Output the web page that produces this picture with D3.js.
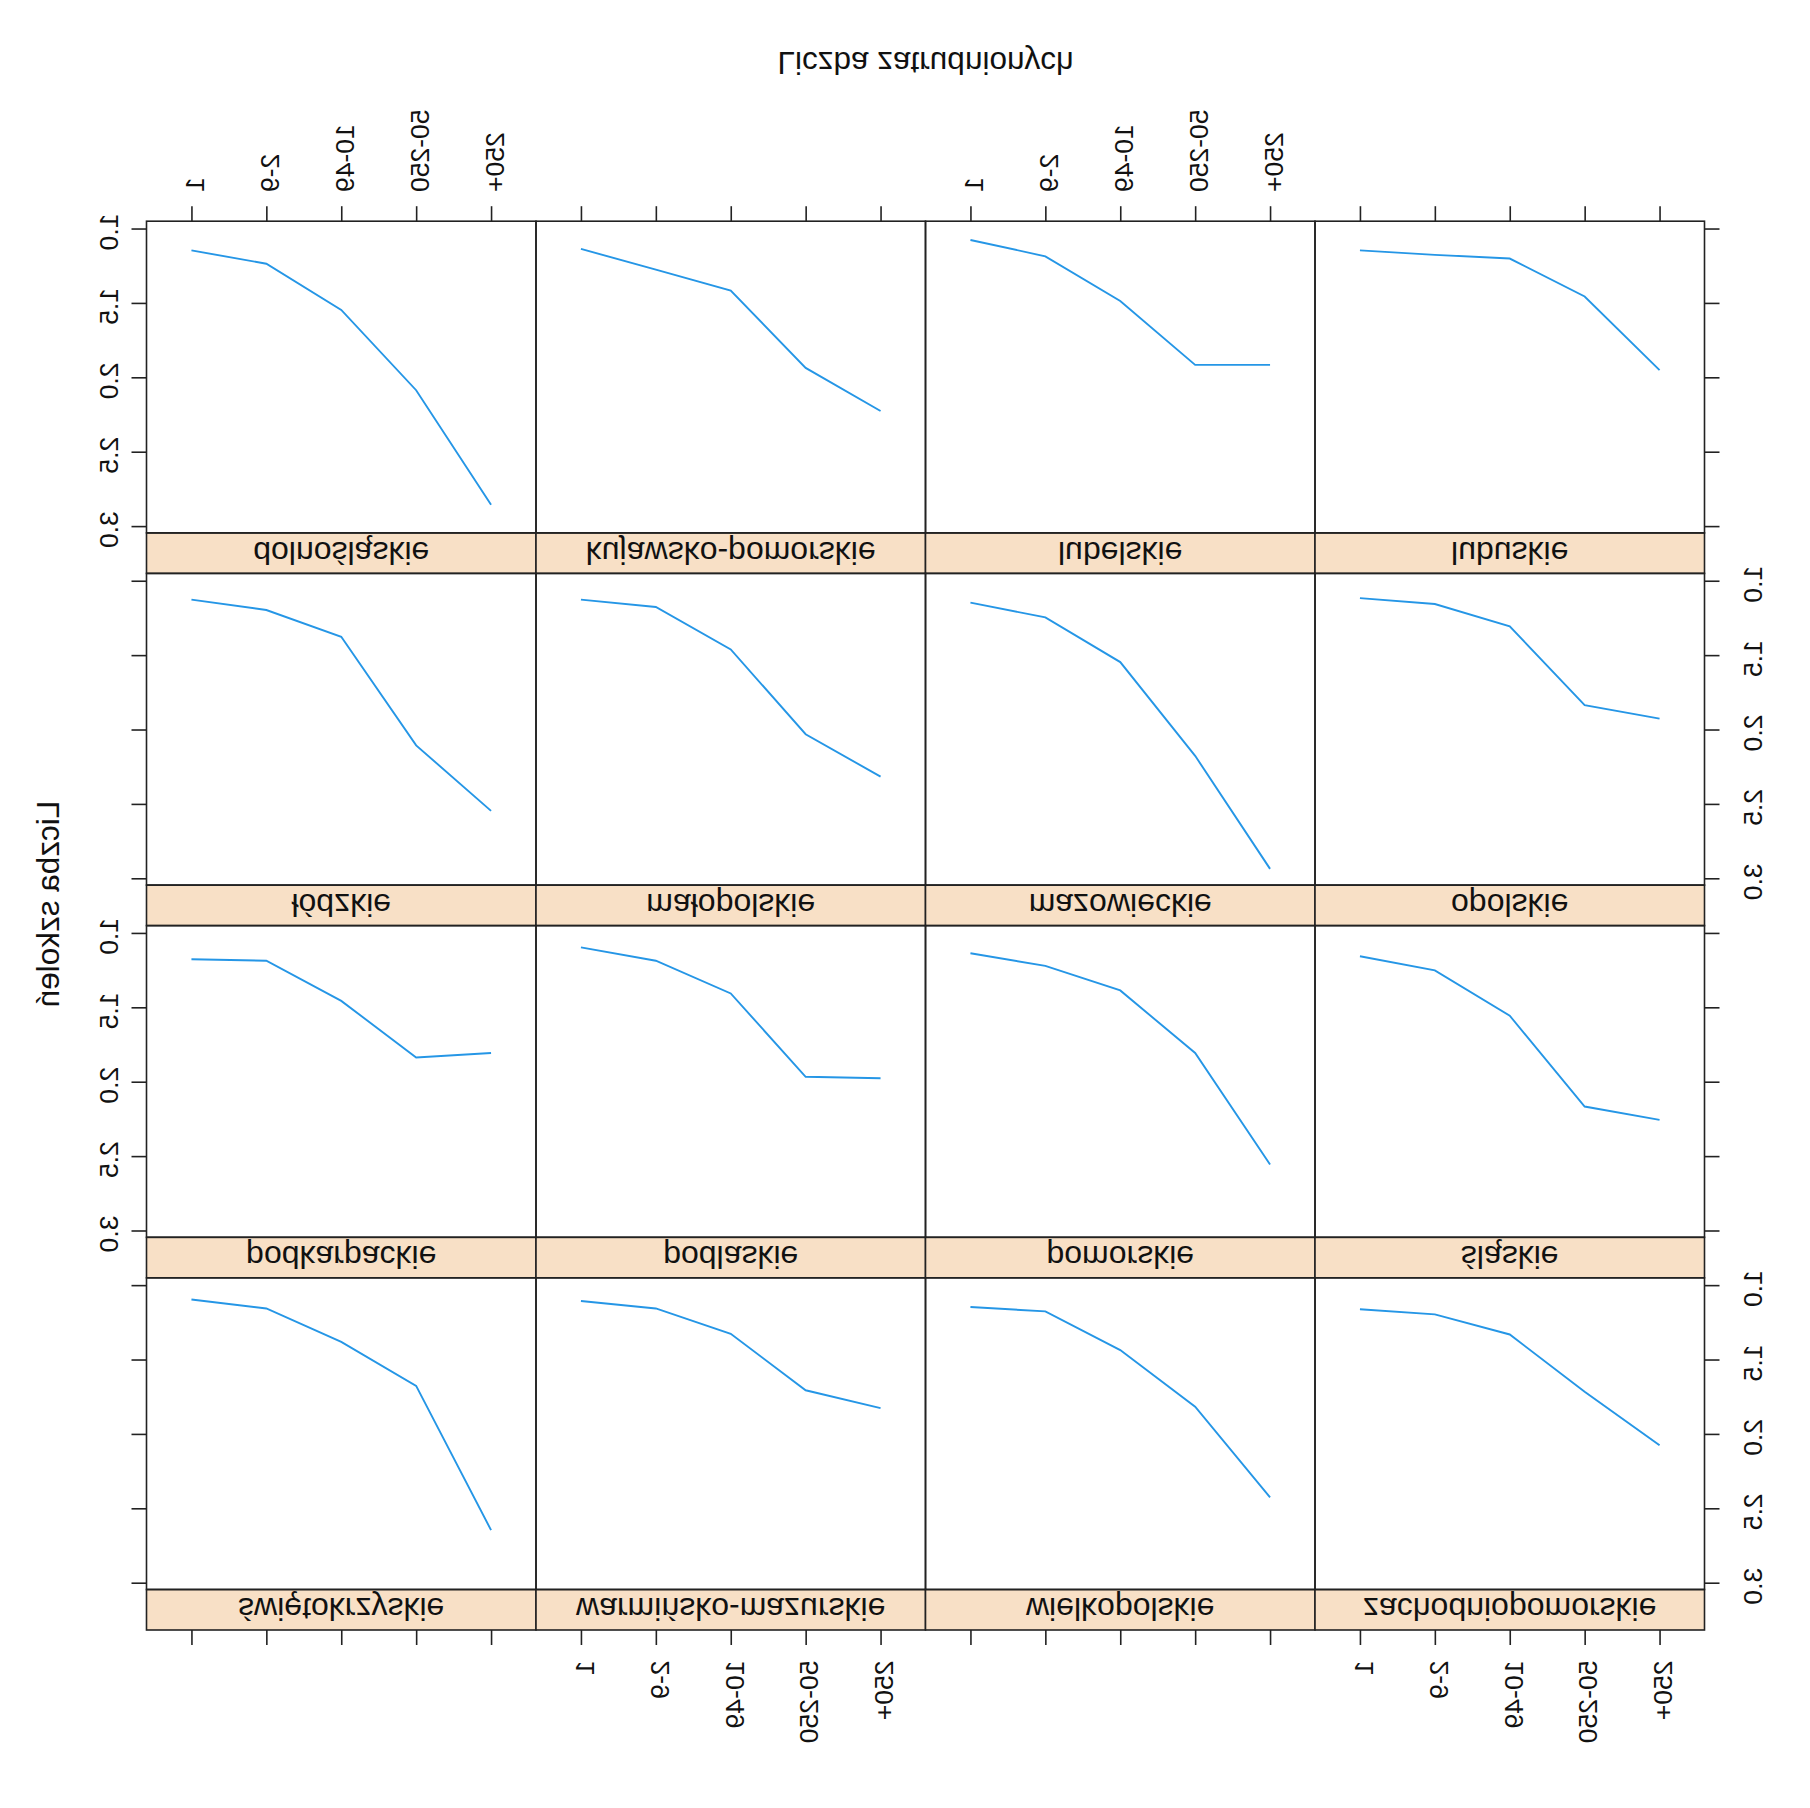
<!DOCTYPE html>
<html><head><meta charset="utf-8">
<script src="https://cdn.jsdelivr.net/npm/d3@7"></script>
<style>body{margin:0;background:#fff}</style>
</head><body>
<script>
// categories (x axis) and tick values
const sizeClasses = ["1", "2-9", "10-49", "50-250", "250+"];
const yTicks = [1.0, 1.5, 2.0, 2.5, 3.0];
const regions = ["dolnośląskie", "kujawsko-pomorskie", "lubelskie", "lubuskie",
  "łódzkie", "małopolskie", "mazowieckie", "opolskie",
  "podkarpackie", "podlaskie", "pomorskie", "śląskie",
  "świętokrzyskie", "warmińsko-mazurskie", "wielkopolskie", "zachodniopomorskie"];

// series values (Liczba szkoleń) per region, in sizeClasses order
const dolnoslaskie       = [1.14, 1.23, 1.54, 2.08, 2.85];
const kujawskoPomorskie  = [1.13, 1.27, 1.41, 1.93, 2.22];
const lubelskie          = [1.07, 1.18, 1.48, 1.91, 1.91];
const lubuskie           = [1.14, 1.17, 1.195, 1.45, 1.945];
const lodzkie            = [1.12, 1.19, 1.37, 2.10, 2.54];
const malopolskie        = [1.12, 1.17, 1.455, 2.025, 2.31];
const mazowieckie        = [1.14, 1.24, 1.54, 2.17, 2.93];
const opolskie           = [1.11, 1.15, 1.30, 1.83, 1.92];
const podkarpackie       = [1.17, 1.18, 1.45, 1.83, 1.80];
const podlaskie          = [1.09, 1.18, 1.40, 1.96, 1.97];
const pomorskie          = [1.13, 1.215, 1.38, 1.80, 2.55];
const slaskie            = [1.15, 1.245, 1.55, 2.16, 2.25];
const swietokrzyskie     = [1.09, 1.15, 1.375, 1.67, 2.64];
const warminskoMazurskie = [1.10, 1.15, 1.32, 1.70, 1.82];
const wielkopolskie      = [1.14, 1.17, 1.43, 1.81, 2.42];
const zachodniopomorskie = [1.155, 1.19, 1.325, 1.71, 2.07];

const series = [dolnoslaskie, kujawskoPomorskie, lubelskie, lubuskie,
  lodzkie, malopolskie, mazowieckie, opolskie,
  podkarpackie, podlaskie, pomorskie, slaskie,
  swietokrzyskie, warminskoMazurskie, wielkopolskie, zachodniopomorskie];

const W = 1810, H = 1808;
const FONT = "'Liberation Sans', Arial, Helvetica, sans-serif";
const svg = d3.select("body").append("svg").attr("width", W).attr("height", H)
  .style("font-family", FONT);
svg.append("rect").attr("width", W).attr("height", H).attr("fill", "#fff");
// the reference is shown mirrored vertically
const g = svg.append("g").attr("transform", `translate(0,${H}) scale(1,-1)`);

const gLeft = 146.5, gRight = 1704.5, gTop = 178, gBottom = 1586.8;
const nCol = 4, nRow = 4;
const colW = (gRight - gLeft) / nCol, rowH = (gBottom - gTop) / nRow, stripH = 40.5;
const INK = "#222";
const tickFont = 26.5, stripFont = 32, titleFont = 31.5;

const fmt = d3.format(".1f");

series.forEach((vals, k) => {
  const col = k % nCol, rowB = Math.floor(k / nCol), rowT = nRow - 1 - rowB;
  const x0 = gLeft + col * colW, y0 = gTop + rowT * rowH;
  const pTop = y0 + stripH, pBot = y0 + rowH;
  const x = d3.scalePoint().domain(sizeClasses).range([x0, x0 + colW]).padding(0.6);
  const y = d3.scaleLinear().domain([0.944, 3.039]).range([pBot, pTop]);
  const pg = g.append("g");

  // strip
  pg.append("rect").attr("x", x0).attr("y", y0).attr("width", colW).attr("height", stripH)
    .attr("fill", "#f8e0c6").attr("stroke", INK).attr("stroke-width", 1.6);
  pg.append("text").attr("x", x0 + colW / 2).attr("y", y0 + stripH / 2 + 11.3)
    .attr("text-anchor", "middle").attr("font-size", stripFont).attr("fill", "#111")
    .text(regions[k]);
  // panel box
  pg.append("rect").attr("x", x0).attr("y", pTop).attr("width", colW).attr("height", pBot - pTop)
    .attr("fill", "none").attr("stroke", INK).attr("stroke-width", 1.6);

  // line
  pg.append("path").datum(vals)
    .attr("d", d3.line().x((d, i) => x(sizeClasses[i])).y(d => y(d)))
    .attr("fill", "none").attr("stroke", "#2596e6").attr("stroke-width", 1.9);

  const styleAxis = (ax) => {
    ax.select(".domain").remove();
    ax.selectAll(".tick line").attr("stroke", INK).attr("stroke-width", 1.6);
    ax.selectAll("text").attr("font-size", tickFont).attr("fill", "#111").attr("font-family", FONT);
  };

  // bottom axis (bottom row)
  if (rowT === nRow - 1) {
    const ax = pg.append("g").attr("transform", `translate(0,${pBot})`)
      .call(d3.axisBottom(x).tickSize(15).tickSizeOuter(0));
    styleAxis(ax);
    if (col % 2 === 0) {
      ax.selectAll(".tick text").attr("x", null).attr("y", null).attr("dy", null)
        .attr("transform", "translate(12.3,29.2) rotate(-90)").attr("text-anchor", "end");
    } else ax.selectAll(".tick text").remove();
  }
  // top axis (top row, above strips)
  if (rowT === 0) {
    const ax = pg.append("g").attr("transform", `translate(0,${y0})`)
      .call(d3.axisTop(x).tickSize(15).tickSizeOuter(0));
    styleAxis(ax);
    if (col % 2 === 1) {
      ax.selectAll(".tick text").attr("x", null).attr("y", null).attr("dy", null)
        .attr("transform", "translate(12.3,-30.6) rotate(-90)").attr("text-anchor", "start");
    } else ax.selectAll(".tick text").remove();
  }
  // left axis
  if (col === 0) {
    const ax = pg.append("g").attr("transform", `translate(${x0},0)`)
      .call(d3.axisLeft(y).tickValues(yTicks).tickFormat(fmt).tickSize(15).tickSizeOuter(0));
    styleAxis(ax);
    if (rowB % 2 === 0) {
      ax.selectAll(".tick text").attr("x", null).attr("y", null).attr("dy", null)
        .attr("transform", "translate(-29,-3) rotate(-90)").attr("text-anchor", "middle");
    } else ax.selectAll(".tick text").remove();
  }
  // right axis
  if (col === nCol - 1) {
    const ax = pg.append("g").attr("transform", `translate(${x0 + colW},0)`)
      .call(d3.axisRight(y).tickValues(yTicks).tickFormat(fmt).tickSize(15).tickSizeOuter(0));
    styleAxis(ax);
    if (rowB % 2 === 1) {
      ax.selectAll(".tick text").attr("x", null).attr("y", null).attr("dy", null)
        .attr("transform", "translate(57,-3) rotate(-90)").attr("text-anchor", "middle");
    } else ax.selectAll(".tick text").remove();
  }
});

// axis titles
g.append("text").attr("x", (gLeft + gRight) / 2).attr("y", 1756.3)
  .attr("text-anchor", "middle").attr("font-size", titleFont).attr("fill", "#111")
  .text("Liczba zatrudnionych");
g.append("text").attr("transform", `translate(59,904) rotate(-90)`)
  .attr("text-anchor", "middle").attr("font-size", titleFont).attr("fill", "#111")
  .text("Liczba szkoleń");
</script>
</body></html>
